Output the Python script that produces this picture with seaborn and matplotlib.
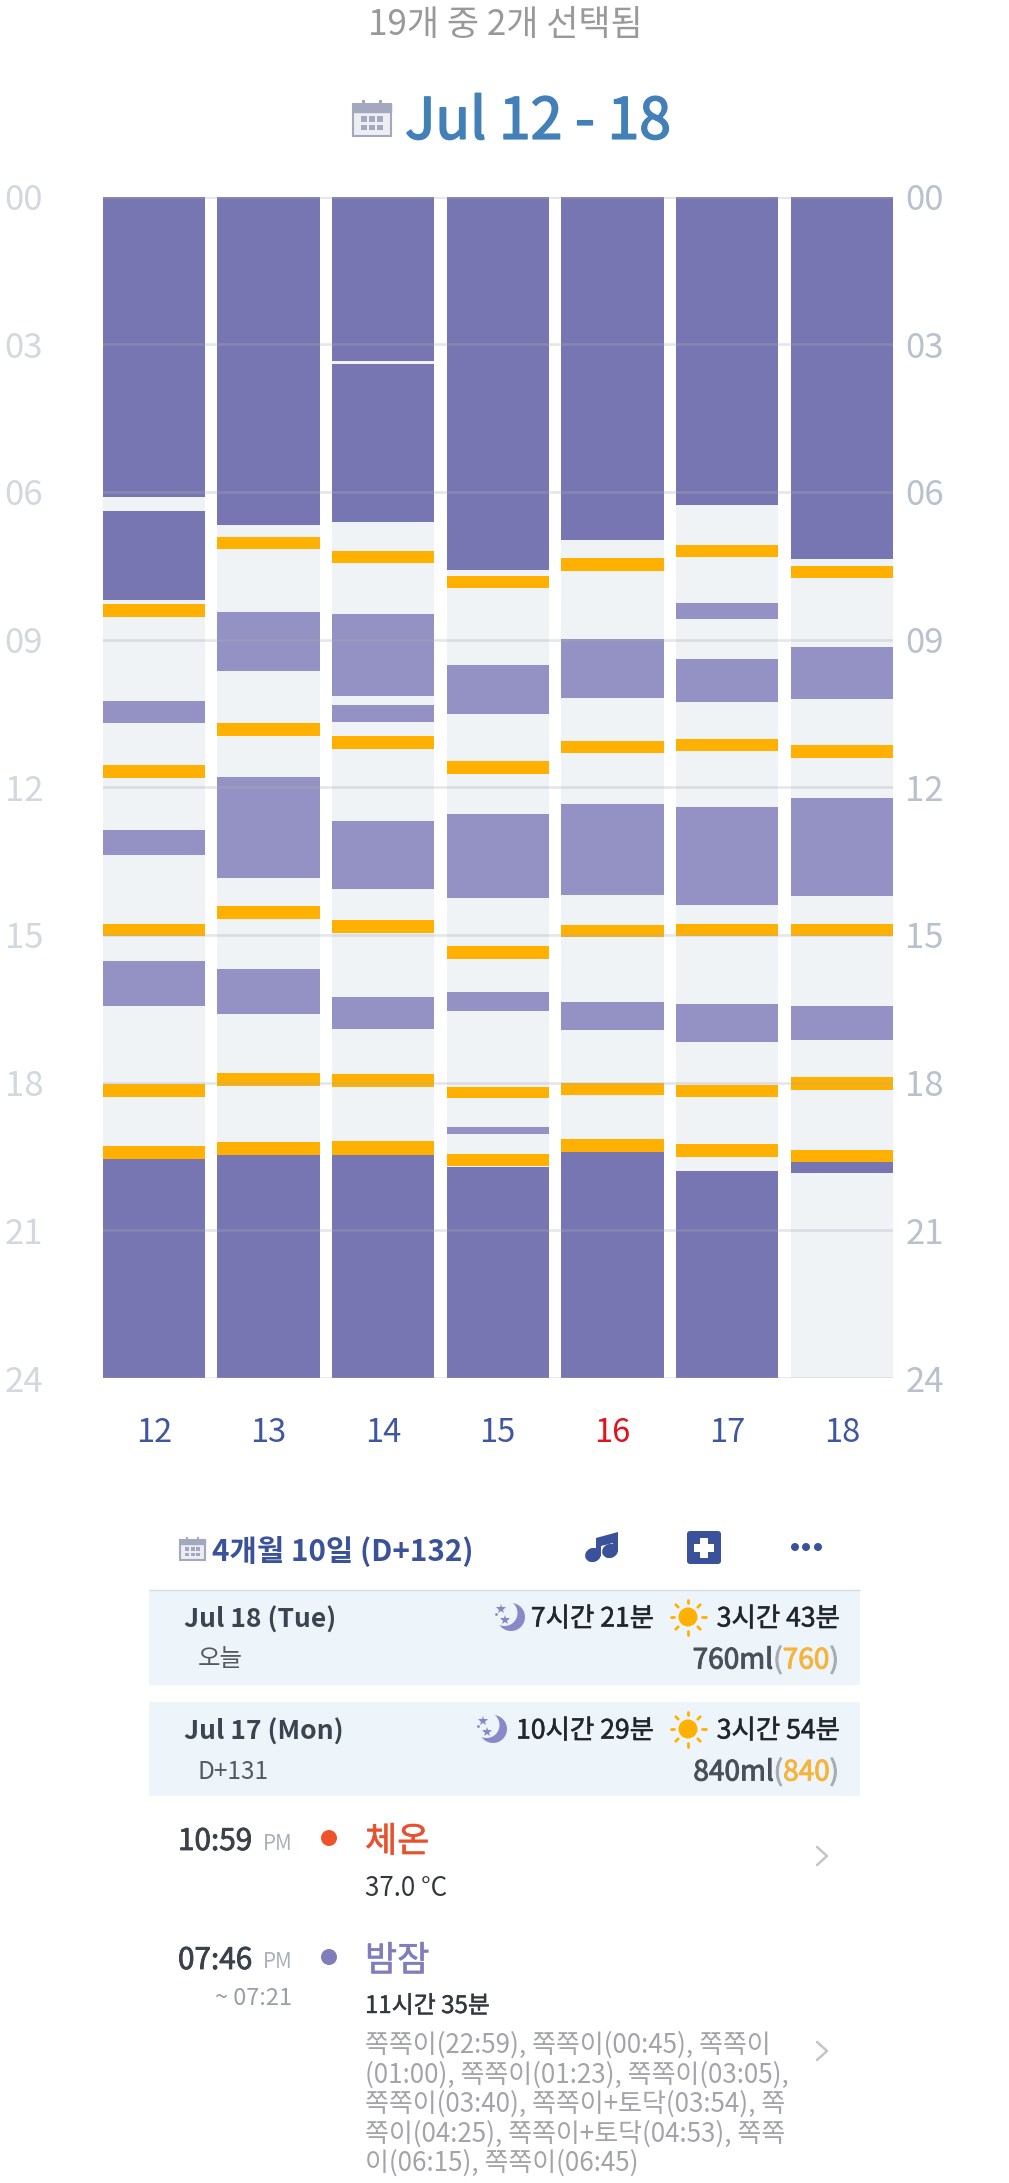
import matplotlib
matplotlib.use("Agg")
import matplotlib.pyplot as plt
import matplotlib.patheffects as pe
from matplotlib.patches import Circle, Rectangle, FancyBboxPatch, Ellipse, Polygon
import pandas as pd
import seaborn as sns

# Week shown in the chart
days = ["12", "13", "14", "15", "16", "17", "18"]
hour_ticks = [0, 3, 6, 9, 12, 15, 18, 21, 24]
hour_labels = ["00", "03", "06", "09", "12", "15", "18", "21", "24"]

# Spans per day, in hours since midnight
night_spans = [
    [(0, 6.11), (6.39, 8.20), (19.56, 24)],
    [(0, 6.67), (19.48, 24)],
    [(0, 3.35), (3.40, 6.62), (19.47, 24)],
    [(0, 7.58), (19.72, 24)],
    [(0, 6.97), (19.40, 24)],
    [(0, 6.27), (19.79, 24)],
    [(0, 7.37), (19.61, 19.84)],
]
nap_spans = [
    [(10.24, 10.69), (12.87, 13.37), (15.52, 16.44)],
    [(8.44, 9.63), (11.80, 13.84), (15.69, 16.61)],
    [(8.49, 10.14), (10.32, 10.67), (12.68, 14.07), (16.27, 16.91)],
    [(9.51, 10.52), (12.55, 14.24), (16.16, 16.54), (18.90, 19.05)],
    [(8.99, 10.19), (12.35, 14.19), (16.37, 16.94)],
    [(8.25, 8.58), (9.39, 10.26), (12.40, 14.39), (16.41, 17.17)],
    [(9.15, 10.20), (12.21, 14.21), (16.44, 17.14)],
]
feed_spans = [
    [(8.28, 8.54), (11.54, 11.81), (14.77, 15.03), (18.03, 18.29), (19.29, 19.56)],
    [(6.92, 7.17), (10.69, 10.95), (14.41, 14.67), (17.81, 18.07), (19.21, 19.48)],
    [(7.20, 7.45), (10.96, 11.22), (14.69, 14.96), (17.83, 18.09), (19.19, 19.47)],
    [(7.70, 7.95), (11.47, 11.73), (15.23, 15.49), (18.08, 18.32), (19.44, 19.69)],
    [(7.35, 7.61), (11.06, 11.31), (14.79, 15.05), (18.01, 18.25), (19.14, 19.40)],
    [(7.07, 7.33), (11.02, 11.27), (14.77, 15.03), (18.04, 18.29), (19.24, 19.51)],
    [(7.50, 7.75), (11.15, 11.41), (14.77, 15.03), (17.88, 18.14), (19.36, 19.61)],
]

FIG_W, FIG_H = 1009, 2183
BAND = "#EFF3F6"
NIGHT = "#7776B3"
NAP = "#9492C4"
FEED = "#FFB000"
NAVY = "#3A5299"

sns.set_theme(style="white")
plt.rcParams["font.family"] = ["Noto Sans CJK KR", "DejaVu Sans"]

fig = plt.figure(figsize=(FIG_W / 100, FIG_H / 100), dpi=100, facecolor="white")

# Chart area, placed in pixel terms
left, right, top, bottom = 102.5, 893, 196.5, 1378
ax = fig.add_axes([left / FIG_W, 1 - bottom / FIG_H, (right - left) / FIG_W, (bottom - top) / FIG_H])


def segments(spans, colour):
    rows = []
    for day, items in zip(days, spans):
        for start, end in items:
            rows.append({"day": day, "start": start, "length": end - start, "colour": colour})
    return rows


table = pd.DataFrame(segments(night_spans, NIGHT) + segments(nap_spans, NAP) + segments(feed_spans, FEED))

bar_kws = dict(order=days, width=0.893, saturation=1, errorbar=None, linewidth=0, ax=ax)
sns.barplot(x=days, y=[24] * len(days), color=BAND, **bar_kws)
for row in table.itertuples():
    sns.barplot(x=[row.day], y=[row.length], bottom=row.start, color=row.colour, **bar_kws)

ax.set_xlim(-0.4465, 6.4465)
ax.set_ylim(24, 0)
ax.set_xlabel("")
ax.set_ylabel("")
for spine in ax.spines.values():
    spine.set_visible(False)
ax.set_axisbelow(False)
ax.set_yticks(hour_ticks, hour_labels)
ax.grid(axis="y", color="#A8ADB2", alpha=0.3, linewidth=1.9, zorder=5)
ax.grid(axis="x", visible=False)
ax.tick_params(axis="y", length=0, pad=70.5, labelsize=25, labelcolor="#D3D8DE")
for tick in ax.get_yticklabels():
    tick.set_horizontalalignment("left")
ax.tick_params(axis="x", length=0, pad=28, labelsize=23.5, labelcolor="#3F57A0")
for tick in ax.get_xticklabels():
    if tick.get_text() == "16":
        tick.set_color("#E3121C")

twin = ax.twinx()
twin.set_ylim(24, 0)
twin.set_yticks(hour_ticks, hour_labels)
twin.tick_params(axis="y", length=0, pad=9, labelsize=25, labelcolor="#B9C1CE")
twin.grid(False)
for spine in twin.spines.values():
    spine.set_visible(False)

# Overlay in pixel coordinates for the surrounding app screen
ui = fig.add_axes([0, 0, 1, 1], facecolor="none")
ui.set_xlim(0, FIG_W)
ui.set_ylim(FIG_H, 0)
ui.axis("off")


def label(x, y, text, px, colour, ha="left", weight="normal", stroke=0):
    t = ui.text(x, y, text, fontsize=px * 0.72, color=colour, ha=ha, va="center_baseline", fontweight=weight)
    if stroke:
        t.set_path_effects([pe.withStroke(linewidth=stroke, foreground=colour)])
    return t


def calendar(x0, y0, w, h):
    c = "#A3A8BE"
    ui.add_patch(Rectangle((x0, y0 + h * 0.12), w, h * 0.88, facecolor="#EDEEF3", edgecolor=c, linewidth=1.5))
    ui.add_patch(Rectangle((x0, y0 + h * 0.12), w, h * 0.2, facecolor=c, edgecolor=c))
    for k in (0.28, 0.72):
        ui.add_patch(Rectangle((x0 + w * k - 1.2, y0), 2.4, h * 0.2, facecolor=c, edgecolor="none"))
    for i in range(3):
        for j in range(2):
            ui.add_patch(Rectangle((x0 + w * (0.2 + 0.22 * i), y0 + h * (0.45 + 0.24 * j)),
                                   w * 0.16, h * 0.15, facecolor=c, edgecolor="none"))


def moon(cx, cy, back):
    c = "#8A88C6"
    ui.add_patch(Circle((cx, cy), 14, facecolor=c, edgecolor="none"))
    ui.add_patch(Circle((cx - 6.5, cy - 4), 13, facecolor=back, edgecolor="none"))
    ui.plot([cx - 10, cx - 6], [cy - 8, cy + 3], ls="none", marker="*", ms=7, color=c, mew=0)
    ui.plot([cx - 15], [cy - 3], ls="none", marker="o", ms=2, color=c, mew=0)


def sun(cx, cy):
    c = "#FFB000"
    ui.add_patch(Circle((cx, cy), 9.5, facecolor=c, edgecolor="none"))
    for dx, dy in [(1, 0), (-1, 0), (0, 1), (0, -1), (0.7, 0.7), (-0.7, 0.7), (0.7, -0.7), (-0.7, -0.7)]:
        ui.plot([cx + dx * 14, cx + dx * 17.5], [cy + dy * 14, cy + dy * 17.5], color=c, lw=2, solid_capstyle="round")


def chevron(x0, y0, y1):
    ui.plot([x0, x0 + 10, x0], [y0, (y0 + y1) / 2, y1], color="#C2C5C9", lw=1.8)


def amount(y, total, feed):
    # Right-aligned run of differently coloured pieces
    renderer = fig.canvas.get_renderer()
    x = 839
    pieces = [(")", "#A9ADB2"), (feed, "#F5B53C"), ("(", "#A9ADB2"), (f"{total}ml", "#4A5058")]
    for text, colour in pieces:
        t = label(x, y, text, 28, colour, ha="right", stroke=0.7)
        x -= t.get_window_extent(renderer).width


# Header
label(505, 21, "19개 중 2개 선택됨", 35, "#999999", ha="center")
calendar(353, 100, 38, 36)
label(405, 116, "Jul 12 - 18", 57, "#4380B8", stroke=1.2)

# Toolbar
calendar(180, 1537, 25, 23)
label(212, 1548, "4개월 10일 (D+132)", 29.7, NAVY, weight="bold")
ui.add_patch(Ellipse((593, 1555), 16, 14, angle=-20, facecolor=NAVY, edgecolor="none"))
ui.add_patch(Ellipse((610, 1551), 16, 14, angle=-20, facecolor=NAVY, edgecolor="none"))
ui.add_patch(Polygon([(596, 1556), (596, 1538), (618, 1532), (618, 1552), (613, 1552),
                      (613, 1543), (601, 1546), (601, 1556)], facecolor=NAVY, edgecolor="none"))
ui.add_patch(FancyBboxPatch((689, 1533), 30, 29, boxstyle="round,pad=2,rounding_size=3", facecolor=NAVY, edgecolor="none"))
ui.add_patch(Rectangle((700, 1538), 8, 20, facecolor="white", edgecolor="none"))
ui.add_patch(Rectangle((694, 1544), 20, 8, facecolor="white", edgecolor="none"))
for cx in (795, 806, 818):
    ui.add_patch(Circle((cx, 1547), 4, facecolor=NAVY, edgecolor="none"))

# Daily summary rows
ROW_BG = "#EDF5FB"
ui.add_patch(Rectangle((149, 1590), 711, 95, facecolor=ROW_BG, edgecolor="none"))
ui.add_patch(Rectangle((149, 1702), 711, 94, facecolor=ROW_BG, edgecolor="none"))
ui.plot([149, 860], [1590, 1590], color="#D5DBE3", lw=1)

label(184, 1617, "Jul 18 (Tue)", 26.5, "#3C4450", weight="bold")
label(198, 1656, "오늘", 24.5, "#555A60")
moon(511, 1617, ROW_BG)
label(654, 1616, "7시간 21분", 26.5, "#23272C", ha="right", stroke=0.4)
sun(688, 1617)
label(840, 1616, "3시간 43분", 26.5, "#23272C", ha="right", stroke=0.4)
amount(1657, "760", "760")

label(184, 1729, "Jul 17 (Mon)", 26.5, "#3C4450", weight="bold")
label(198, 1769, "D+131", 24.5, "#555A60")
moon(493, 1729, ROW_BG)
label(654, 1728, "10시간 29분", 26.5, "#23272C", ha="right", stroke=0.4)
sun(688, 1729)
label(840, 1728, "3시간 54분", 26.5, "#23272C", ha="right", stroke=0.4)
amount(1769, "840", "840")

# Timeline entries
label(178, 1838, "10:59", 29.7, "#3A414B", stroke=0.6)
label(263, 1841, "PM", 20.5, "#AAB0B8")
ui.add_patch(Circle((329, 1838), 8, facecolor="#F0532B", edgecolor="none"))
label(365, 1838, "체온", 35, "#E9512D", stroke=0.4)
label(365, 1886, "37.0 °C", 26, "#33383E")
chevron(817, 1847, 1865)

label(178, 1957, "07:46", 29.7, "#3A414B", stroke=0.6)
label(263, 1959, "PM", 20.5, "#AAB0B8")
label(292, 1996, "~ 07:21", 23.5, "#9A9FA6", ha="right")
ui.add_patch(Circle((329, 1957), 8, facecolor="#7F7DBB", edgecolor="none"))
label(365, 1957, "밤잠", 35, "#7F7DBB", stroke=0.4)
label(365, 2004, "11시간 35분", 24, "#33383E", stroke=0.3)
chevron(817, 2042, 2060)

detail_lines = [
    "쪽쪽이(22:59), 쪽쪽이(00:45), 쪽쪽이",
    "(01:00), 쪽쪽이(01:23), 쪽쪽이(03:05),",
    "쪽쪽이(03:40), 쪽쪽이+토닥(03:54), 쪽",
    "쪽이(04:25), 쪽쪽이+토닥(04:53), 쪽쪽",
    "이(06:15), 쪽쪽이(06:45)",
]
for y, line in zip([2042, 2072, 2101, 2131, 2160], detail_lines):
    label(365, y, line, 26, "#A2A4A8")

fig.savefig("out.png", dpi=100, facecolor="white")
